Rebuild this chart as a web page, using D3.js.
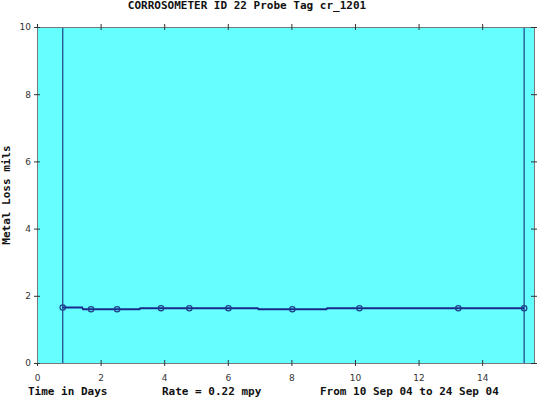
<!DOCTYPE html>
<html>
<head>
<meta charset="utf-8">
<script src="https://cdn.jsdelivr.net/npm/d3@7"></script>
<style>
  body { margin: 0; background: #fff; }
  svg { display: block; }
  .lbl { font-family: "DejaVu Sans Mono", monospace; font-weight: bold; font-size: 11px; fill: #111; }
  .tick text { font-family: "DejaVu Sans", sans-serif; font-size: 9px; fill: #333; }
</style>
</head>
<body>
<div id="chart"></div>
<script>
// readings (days since start, metal loss in mils)
const markerDays = [0.81, 1.70, 2.52, 3.90, 4.79, 6.02, 8.03, 10.14, 13.25, 15.32];
const markerMils = [1.65, 1.60, 1.60, 1.63, 1.63, 1.63, 1.60, 1.63, 1.63, 1.63];
// trace incl. steps between marked readings
const traceDays = [0.81, 1.42, 1.45, 1.70, 2.52, 3.22, 3.25, 3.90, 4.79, 6.02, 6.94, 6.97, 8.03, 9.10, 9.13, 10.14, 13.25, 15.32];
const traceMils = [1.65, 1.65, 1.60, 1.60, 1.60, 1.60, 1.63, 1.63, 1.63, 1.63, 1.63, 1.60, 1.60, 1.60, 1.63, 1.63, 1.63, 1.63];
const xTicks = [0, 2, 4, 6, 8, 10, 12, 14];
const yTicks = [0, 2, 4, 6, 8, 10];
const title = "CORROSOMETER ID 22 Probe Tag cr_1201";
const footer = ["Time in Days", "Rate = 0.22 mpy", "From 10 Sep 04 to 24 Sep 04"];

const width = 542, height = 398;
const margin = {top: 27, left: 37, bottom: 35, right: 8};

const svg = d3.select("#chart").append("svg")
    .attr("width", width).attr("height", height);

const x = d3.scaleLinear().domain([0, 15.63]).range([margin.left, width - margin.right]);
const y = d3.scaleLinear().domain([0, 10]).range([height - margin.bottom, margin.top]);

// plot background
svg.append("rect")
    .attr("x", x(0)).attr("y", y(10))
    .attr("width", x(15.63) - x(0)).attr("height", y(0) - y(10))
    .attr("fill", "#66ffff");

// start / end markers
svg.append("g")
    .selectAll("line")
    .data([markerDays[0], markerDays[markerDays.length - 1]])
    .join("line")
    .attr("x1", d => x(d)).attr("x2", d => x(d))
    .attr("y1", y(0)).attr("y2", y(10))
    .attr("stroke", "#1d3f8a").attr("stroke-width", 1.2);

// axes on all four sides
const axisStyle = g => {
    g.select(".domain").attr("stroke", "#777");
    g.selectAll(".tick line").attr("stroke", "#333");
};
svg.append("g")
    .attr("transform", `translate(0,${y(0)})`)
    .call(d3.axisBottom(x).tickValues(xTicks).tickSize(3).tickSizeOuter(0).tickPadding(9))
    .call(axisStyle)
    .call(g => g.selectAll(".tick line").attr("y1", -3));
svg.append("g")
    .attr("transform", `translate(0,${y(10)})`)
    .call(d3.axisTop(x).tickValues(xTicks).tickSize(3).tickSizeOuter(0).tickFormat(""))
    .call(axisStyle)
    .call(g => g.selectAll(".tick line").attr("y1", 3));
svg.append("g")
    .attr("transform", `translate(${x(0)},0)`)
    .call(d3.axisLeft(y).tickValues(yTicks).tickSize(3).tickSizeOuter(0).tickPadding(3))
    .call(axisStyle)
    .call(g => g.selectAll(".tick line").attr("x1", 3));
svg.append("g")
    .attr("transform", `translate(${x(15.63)},0)`)
    .call(d3.axisRight(y).tickValues(yTicks).tickSize(3).tickSizeOuter(0).tickFormat(""))
    .call(axisStyle)
    .call(g => g.selectAll(".tick line").attr("x1", -3));

// trace
const trace = d3.zip(traceDays, traceMils);
svg.append("path")
    .datum(trace)
    .attr("fill", "none")
    .attr("stroke", "#1a2a8c")
    .attr("stroke-width", 2)
    .attr("d", d3.line().x(d => x(d[0])).y(d => y(d[1])));

svg.append("g")
    .selectAll("circle")
    .data(d3.zip(markerDays, markerMils))
    .join("circle")
    .attr("cx", d => x(d[0])).attr("cy", d => y(d[1]))
    .attr("r", 2.7)
    .attr("fill", "none")
    .attr("stroke", "#1d3f8a")
    .attr("stroke-width", 1.2);

// texts
svg.append("text").attr("class", "lbl")
    .attr("x", 247).attr("y", 9)
    .attr("text-anchor", "middle")
    .text(title);

svg.append("text").attr("class", "lbl")
    .attr("transform", `translate(10,${(y(0) + y(10)) / 2}) rotate(-90)`)
    .attr("text-anchor", "middle")
    .text("Metal Loss mils");

svg.selectAll("text.foot")
    .data(footer)
    .join("text")
    .attr("class", "lbl foot")
    .attr("x", (d, i) => [28, 162, 320][i])
    .attr("y", 395)
    .text(d => d);
</script>
</body>
</html>
